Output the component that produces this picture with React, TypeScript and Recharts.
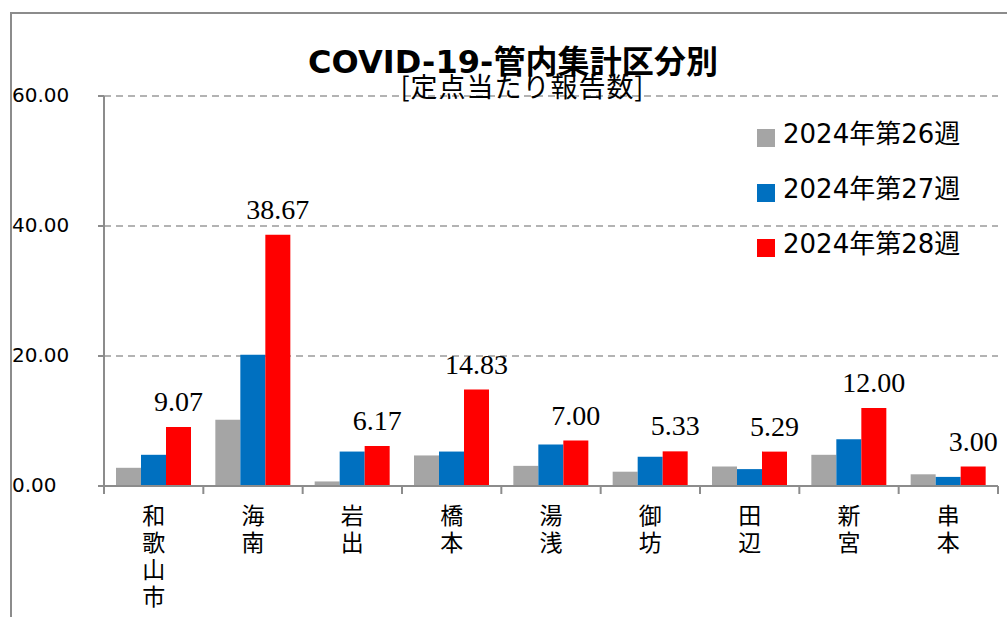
import React from 'react';
import { BarChart, Bar, XAxis, YAxis, CartesianGrid, Legend, LabelList } from 'recharts';

const categories = ['和歌山市', '海南', '岩出', '橋本', '湯浅', '御坊', '田辺', '新宮', '串本'];
const week26 = [2.8, 10.2, 0.7, 4.7, 3.1, 2.2, 3.0, 4.8, 1.8];
const week27 = [4.8, 20.2, 5.3, 5.3, 6.4, 4.5, 2.6, 7.2, 1.4];
const week28 = [9.07, 38.67, 6.17, 14.83, 7.0, 5.33, 5.29, 12.0, 3.0];
const seriesNames = ['2024年第26週', '2024年第27週', '2024年第28週'];
const yTicks = [0, 20, 40, 60];
const titleText = 'COVID-19-管内集計区分別';
const subtitleText = '[定点当たり報告数]';

const data = categories.map((name, i) => ({ name, w26: week26[i], w27: week27[i], w28: week28[i] }));

const W = 1007;
const H = 617;
const MARGIN = { top: 96, right: 9, left: 0, bottom: 0 };
const Y_AXIS_W = 104;
const X_AXIS_H = 131;
const PLOT_W = W - MARGIN.left - MARGIN.right - Y_AXIS_W;
const AXIS_Y = H - MARGIN.bottom - X_AXIS_H;
const SANS = "'DejaVu Sans', 'Noto Sans CJK JP', sans-serif";
const CJK = "'Noto Sans CJK JP', 'DejaVu Sans', sans-serif";
const AXIS_GRAY = '#8c8c8c';

const YTick = (props: any) => {
  const { y, payload } = props;
  return (
    <text x={12} y={y + 6} fontSize={20} fontFamily={SANS} fill="#000" textAnchor="start">
      {Number(payload.value).toFixed(2)}
    </text>
  );
};

const XTick = (props: any) => {
  const { x, payload, index } = props;
  const idx = payload?.index ?? index;
  const band = PLOT_W / categories.length;
  const chars = String(payload.value).split('');
  return (
    <g>
      <line x1={x - band / 2} y1={AXIS_Y} x2={x - band / 2} y2={AXIS_Y + 8} stroke={AXIS_GRAY} strokeWidth={2} />
      {idx === categories.length - 1 && (
        <line x1={x + band / 2} y1={AXIS_Y} x2={x + band / 2} y2={AXIS_Y + 8} stroke={AXIS_GRAY} strokeWidth={2} />
      )}
      {chars.map((c, i) => (
        <text key={i} x={x} y={AXIS_Y + 38 + i * 27} textAnchor="middle" fontSize={23} fontFamily={CJK} fill="#000">
          {c}
        </text>
      ))}
    </g>
  );
};

const renderLegend = (props: any) => {
  const { payload } = props;
  return (
    <svg width={250} height={160} style={{ display: 'block' }}>
      {(payload || []).map((e: any, i: number) => (
        <g key={i}>
          <rect x={0} y={9 + i * 55} width={18} height={18} fill={e.color} />
          <text x={26} y={23 + i * 55} fontSize={26} fontFamily={SANS} fill="#000">
            {e.value}
          </text>
        </g>
      ))}
    </svg>
  );
};

const renderTopLabel = (p: any) => {
  return (
    <text
      x={p.x + p.width / 2}
      y={p.y - 16}
      textAnchor="middle"
      fontSize={28}
      fontFamily="'Liberation Serif', 'DejaVu Serif', serif"
      fill="#000"
    >
      {Number(p.value).toFixed(2)}
    </text>
  );
};

export default function App() {
  return (
    <div style={{ position: 'absolute', left: 0, top: 0, width: W, height: H, overflow: 'hidden', background: '#fff' }}>
      <div
        style={{
          position: 'absolute',
          left: 10,
          top: 12,
          width: 1100,
          height: 700,
          border: `2px solid ${AXIS_GRAY}`,
          boxSizing: 'border-box',
        }}
      />
      <div style={{ position: 'absolute', left: 0, top: 0 }}>
        <BarChart width={W} height={H} data={data} margin={MARGIN} barGap={0} barSize={25}>
          <CartesianGrid vertical={false} stroke="#9a9a9a" strokeDasharray="7 5" strokeWidth={1.5} />
          <XAxis
            dataKey="name"
            height={X_AXIS_H}
            interval={0}
            tickLine={false}
            axisLine={{ stroke: AXIS_GRAY, strokeWidth: 2 }}
            tick={<XTick />}
          />
          <YAxis
            width={Y_AXIS_W}
            domain={[0, 60]}
            ticks={yTicks}
            interval={0}
            tickSize={6}
            axisLine={{ stroke: AXIS_GRAY, strokeWidth: 2 }}
            tickLine={{ stroke: AXIS_GRAY, strokeWidth: 2 }}
            tick={<YTick />}
          />
          <Legend
            layout="vertical"
            align="center"
            verticalAlign="middle"
            content={renderLegend}
            wrapperStyle={{ left: 757, top: 120, width: 250, height: 160 }}
          />
          <Bar dataKey="w26" name={seriesNames[0]} fill="#A5A5A5" isAnimationActive={false} />
          <Bar dataKey="w27" name={seriesNames[1]} fill="#0070C0" isAnimationActive={false} />
          <Bar dataKey="w28" name={seriesNames[2]} fill="#FF0000" isAnimationActive={false}>
            <LabelList dataKey="w28" content={renderTopLabel} />
          </Bar>
        </BarChart>
      </div>
      <svg width={W} height={H} style={{ position: 'absolute', left: 0, top: 0, pointerEvents: 'none' }}>
        <text x={513} y={73} textAnchor="middle" fontSize={32} fontWeight="bold" fontFamily={SANS} fill="#000" textLength={410} lengthAdjust="spacing">
          {titleText}
        </text>
        <text x={522} y={97} textAnchor="middle" fontSize={27} fontFamily={CJK} fill="#000" textLength={243} lengthAdjust="spacing">
          {subtitleText}
        </text>
      </svg>
    </div>
  );
}
